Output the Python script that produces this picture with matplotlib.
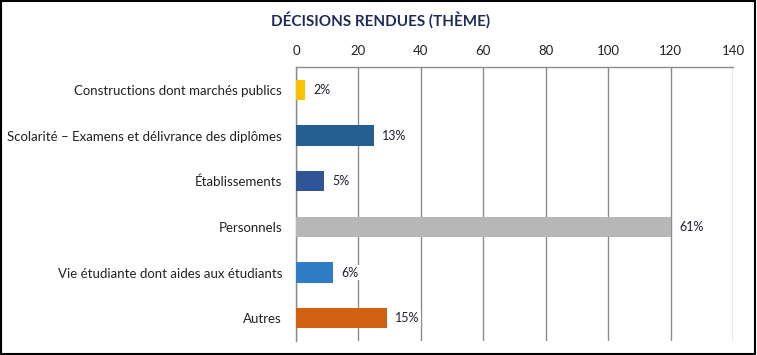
import matplotlib
matplotlib.use("Agg")
import matplotlib.pyplot as plt
from matplotlib.patches import Rectangle

categories = [
    "Constructions dont marchés publics",
    "Scolarité – Examens et délivrance des diplômes",
    "Établissements",
    "Personnels",
    "Vie étudiante dont aides aux étudiants",
    "Autres",
]
values = [3, 25, 9, 120, 12, 29]
pct_labels = ["2%", "13%", "5%", "61%", "6%", "15%"]
colors = ["#FFC000", "#255E91", "#2F5597", "#B7B7B7", "#2E7CC4", "#D26012"]
xticks = [0, 20, 40, 60, 80, 100, 120, 140]

plt.rcParams["font.family"] = ["Lato", "DejaVu Sans"]

fig = plt.figure(figsize=(7.57, 3.55), dpi=100)
ax = fig.add_axes([296 / 757, 1 - 341 / 355, (733 - 296) / 757, (341 - 67) / 355])

y = list(range(len(categories)))
ax.barh(y, values, height=0.44, color=colors, zorder=3)
ax.set_ylim(len(categories) - 0.5, -0.5)
ax.set_xlim(0, 140)
ax.set_xticks(xticks)
ax.xaxis.tick_top()
ax.tick_params(axis="x", length=0, pad=7, labelsize=9.5, colors="#222222")
ax.set_yticks(y)
ax.set_yticklabels(categories)
ax.tick_params(axis="y", length=0, pad=10, labelsize=9.5, colors="#222222")
ax.grid(axis="x", color="#8C8C8C", linewidth=1, zorder=0)
for s in ["right", "bottom"]:
    ax.spines[s].set_visible(False)
for s in ["left", "top"]:
    ax.spines[s].set_color("#8C8C8C")
    ax.spines[s].set_linewidth(1)

for yi, v, lab in zip(y, values, pct_labels):
    ax.annotate(lab, (v, yi), xytext=(6, 0), textcoords="offset points",
                va="center", ha="left", fontsize=9, color="#1F1F2F", zorder=4,
                bbox=dict(boxstyle="square,pad=0.15", fc="white", ec="none"))

fig.text(0.503, 1 - 20 / 355, "DÉCISIONS RENDUES (THÈME)", ha="center", va="center",
         fontsize=11, fontweight="bold", color="#1F2A5C")

fig.patches.append(Rectangle((0.001, 0.003), 0.996, 0.994, transform=fig.transFigure,
                             fill=False, edgecolor="black", linewidth=1.5))

fig.savefig("out.png", dpi=100)
